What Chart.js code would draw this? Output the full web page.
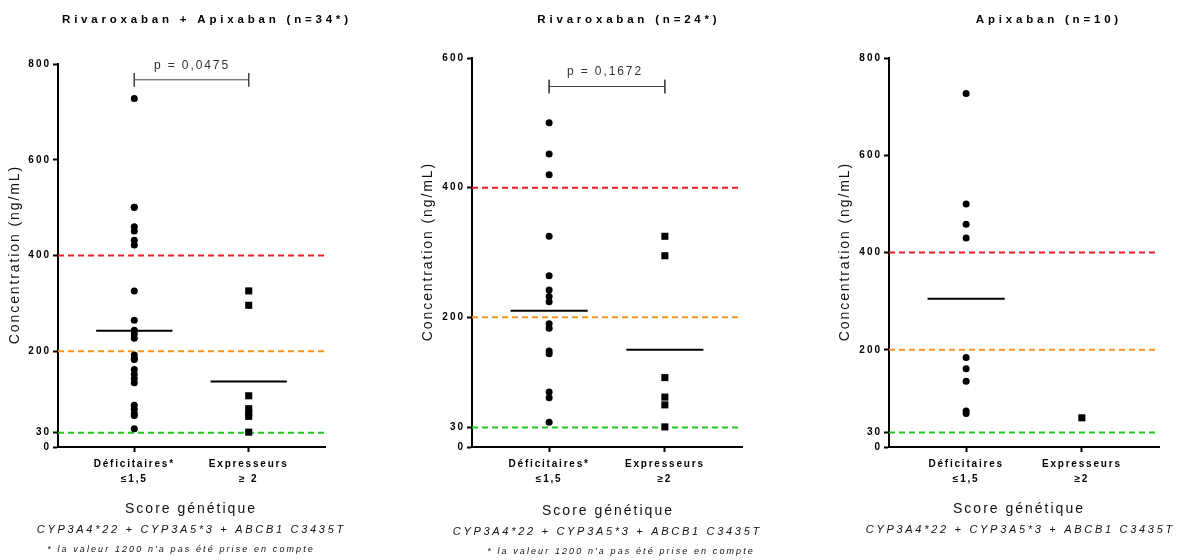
<!DOCTYPE html>
<html><head><meta charset="utf-8">
<script src="https://cdn.jsdelivr.net/npm/chart.js@4/dist/chart.umd.min.js"></script>
<style>
html,body{margin:0;padding:0;background:#fff;width:1191px;height:560px;overflow:hidden}
.p{position:absolute;top:0;width:397px;height:560px}
</style></head><body>
<div class="p" style="left:0"><canvas id="c1" width="397" height="560"></canvas></div>
<div class="p" style="left:397px"><canvas id="c2" width="397" height="560"></canvas></div>
<div class="p" style="left:794px"><canvas id="c3" width="397" height="560"></canvas></div>
<script>
// ---- data ----
const comboDef = [728, 501, 501, 460, 451, 432, 422, 326, 265, 244, 236, 227, 192, 185, 183, 162, 152, 143, 134, 87, 79, 70, 66, 38];
const comboExp = [326, 296, 107, 80, 71, 64, 31];
const comboMeans = [243, 137];
const rivaDef = [500, 452, 420, 325, 264, 242, 232, 224, 190, 183, 148, 144, 85, 76, 38];
const rivaExp = [325, 295, 107, 77, 65, 31];
const rivaMeans = [210, 150];
const apixDef = [727, 500, 458, 430, 184, 161, 135, 74, 69];
const apixExp = [60];
const apixMeans = [305, null];
const thresholds = [400, 200, 30];
const thresholdColors = ['#ee1c24', '#f7931e', '#1ec81e'];
const ticks800 = [0, 30, 200, 400, 600, 800];
const ticks600 = [0, 30, 200, 400, 600];
const catLabels1 = [['Déficitaires*', '≤1,5'], ['Expresseurs', '≥ 2']];
const catLabels2 = [['Déficitaires*', '≤1,5'], ['Expresseurs', '≥2']];
const catLabels3 = [['Déficitaires', '≤1,5'], ['Expresseurs', '≥2']];
const titles = ['Rivaroxaban + Apixaban (n=34*)', 'Rivaroxaban (n=24*)', 'Apixaban (n=10)'];
const pValues = ['p = 0,0475', 'p = 0,1672', null];
const bracketValues = [767, 556, null];
const xTitle = 'Score génétique';
const xSub = 'CYP3A4*22 + CYP3A5*3 + ABCB1 C3435T';
const footnote = "* la valeur 1200 n'a pas été prise en compte";
const yTitle = 'Concentration (ng/mL)';

const XMIN = 1/3, XMAX = 8/3;
const FONT = '"Liberation Sans", Arial, Helvetica, sans-serif';
Chart.defaults.font.family = FONT;

function txt(ctx, s, x, y, font, sp, color, rot) {
  ctx.save();
  ctx.font = font; ctx.letterSpacing = sp + 'px';
  ctx.fillStyle = color; ctx.textAlign = 'center'; ctx.textBaseline = 'middle';
  ctx.translate(x, y); if (rot) ctx.rotate(rot);
  ctx.fillText(s, sp / 2, 0);
  ctx.restore();
}

const extraPlugin = {
  id: 'extra',
  beforeDraw(chart) {
    const o = chart.options.plugins.extra;
    ['x', 'y'].forEach(id => {
      const s = chart.scales[id];
      if (s && !s._patched) {
        const orig = s.drawLabels.bind(s);
        const sp = id === 'y' ? o.ySp : o.xSp;
        s.drawLabels = function (area) {
          const ctx = chart.ctx; ctx.save(); ctx.letterSpacing = sp + 'px';
          orig(area); ctx.restore();
        };
        s._patched = true;
      }
    });
  },
  afterDraw(chart) {
    const o = chart.options.plugins.extra;
    const ctx = chart.ctx, a = chart.chartArea;
    txt(ctx, o.title, o.titleX, 20, 'bold 11.5px ' + FONT, 3.8, '#000');
    txt(ctx, yTitle, o.yTitleX, (a.top + a.bottom) / 2, '14px ' + FONT, 1.9, '#111', -Math.PI / 2);
    txt(ctx, xTitle, o.scoreX, o.scoreY, '14px ' + FONT, 2, '#111');
    txt(ctx, xSub, o.subX, o.scoreY + 20, 'italic 11px ' + FONT, 2.7, '#111');
    if (o.foot) txt(ctx, footnote, o.footX, o.scoreY + 39.5, 'italic 9px ' + FONT, 2.1, '#111');
    if (o.p) {
      const y = chart.scales.y.getPixelForValue(o.bracket) - 14.5;
      txt(ctx, o.p, o.pX, y, '12px ' + FONT, 1.9, '#333');
    }
  }
};

function bracketData(v, h) {
  if (v == null) return [];
  return [{x:1,y:v+h},{x:1,y:v-h},{x:1,y:null},{x:1,y:v},{x:2,y:v},{x:2,y:null},{x:2,y:v+h},{x:2,y:v-h}];
}

function makeChart(id, cfg) {
  const ds = [];
  thresholds.forEach((t, i) => ds.push({
    type: 'line', data: [{x: XMIN, y: t}, {x: XMAX, y: t}], borderColor: thresholdColors[i],
    borderWidth: 2, borderDash: [6, 4], pointRadius: 0, order: 10
  }));
  ds.push({ type: 'scatter', data: cfg.def.map(v => ({x: 1, y: v})), pointStyle: 'circle', pointRadius: 3.5,
    backgroundColor: '#000', borderWidth: 0, order: 1 });
  ds.push({ type: 'scatter', data: cfg.exp.map(v => ({x: 2, y: v})), pointStyle: 'rect', pointRadius: 5,
    backgroundColor: '#000', borderWidth: 0, order: 1 });
  cfg.means.forEach((m, i) => {
    if (m == null) return;
    ds.push({ type: 'line', data: [{x: i + 1 - 1/3, y: m}, {x: i + 1 + 1/3, y: m}], borderColor: '#000',
      borderWidth: 2, pointRadius: 0, order: 2 });
  });
  if (cfg.bracket != null) ds.push({ type: 'line', data: bracketData(cfg.bracket, cfg.bh), borderColor: '#444',
    borderWidth: 1, pointRadius: 0, spanGaps: false, order: 3 });

  return new Chart(document.getElementById(id), {
    type: 'scatter',
    data: { datasets: ds },
    options: {
      responsive: false, animation: false, devicePixelRatio: 1,
      layout: { padding: { left: 0, right: cfg.padR, top: cfg.padT, bottom: 0 } },
      plugins: { legend: {display: false}, tooltip: {enabled: false}, extra: cfg.extra },
      elements: { line: { tension: 0 } },
      clip: false,
      scales: {
        x: {
          type: 'linear', min: XMIN, max: XMAX,
          afterBuildTicks: s => { s.ticks = [{value: 1}, {value: 2}]; },
          afterFit: s => { s.height = 560 - 447; },
          ticks: { autoSkip: false, maxRotation: 0, padding: 5, color: '#000',
            font: { size: 10, weight: 'bold', lineHeight: 1.45 },
            callback: v => cfg.cats[Math.round(v) - 1] },
          grid: { drawOnChartArea: false, drawTicks: true, tickLength: 5, tickColor: '#000', tickWidth: 2, color: '#000' },
          border: { display: true, color: '#000', width: 2 }
        },
        y: {
          type: 'linear', min: 0, max: cfg.ymax,
          afterBuildTicks: s => { s.ticks = cfg.yticks.map(v => ({value: v})); },
          afterFit: s => { s.width = cfg.yW; },
          ticks: { autoSkip: false, padding: 2, color: '#000', font: { size: 10, weight: 'bold' } },
          grid: { drawOnChartArea: false, drawTicks: true, tickLength: 5, tickColor: '#000', tickWidth: 2, color: '#000' },
          border: { display: true, color: '#000', width: 2 }
        }
      }
    },
    plugins: [extraPlugin]
  });
}

makeChart('c1', { def: comboDef, exp: comboExp, means: comboMeans, ymax: 800, yticks: ticks800, cats: catLabels1,
  bracket: bracketValues[0], bh: 14, padR: 397 - 325, padT: 64, yW: 58,
  extra: { title: titles[0], titleX: 205, yTitleX: 15, scoreX: 190, scoreY: 509.5, subX: 190, foot: true, footX: 180,
    p: pValues[0], pX: 191, bracket: bracketValues[0], xSp: 1.8, ySp: 2 } });
makeChart('c2', { def: rivaDef, exp: rivaExp, means: rivaMeans, ymax: 600, yticks: ticks600, cats: catLabels2,
  bracket: bracketValues[1], bh: 10.5, padR: 397 - 345, padT: 58, yW: 75,
  extra: { title: titles[1], titleX: 230, yTitleX: 31, scoreX: 210, scoreY: 511.5, subX: 209, foot: true, footX: 223,
    p: pValues[1], pX: 207, bracket: bracketValues[1], xSp: 1.8, ySp: 2 } });
makeChart('c3', { def: apixDef, exp: apixExp, means: apixMeans, ymax: 800, yticks: ticks800, cats: catLabels3,
  bracket: null, bh: 0, padR: 397 - 365, padT: 58, yW: 95,
  extra: { title: titles[2], titleX: 253, yTitleX: 51, scoreX: 224, scoreY: 509.5, subX: 225, foot: false,
    p: null, xSp: 1.8, ySp: 2 } });
</script>
</body></html>
